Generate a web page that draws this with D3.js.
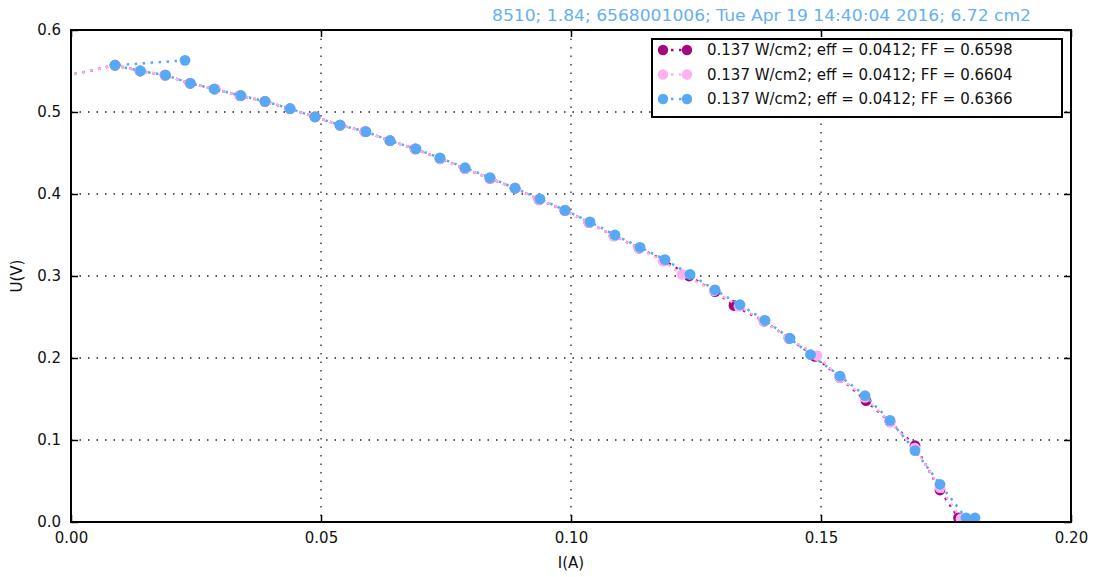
<!DOCTYPE html>
<html>
<head>
<meta charset="utf-8">
<script src="https://cdn.jsdelivr.net/npm/d3@7"></script>
<style>
  body { margin: 0; background: #fff; }
  text { font-family: "DejaVu Sans", sans-serif; }
</style>
</head>
<body>
<svg id="chart"></svg>
<script>
// IV curves
var titleText = "8510; 1.84; 6568001006; Tue Apr 19 14:40:04 2016; 6.72 cm2";
var seriesNames = [
  "0.137 W/cm2; eff = 0.0412; FF = 0.6598",
  "0.137 W/cm2; eff = 0.0412; FF = 0.6604",
  "0.137 W/cm2; eff = 0.0412; FF = 0.6366"
];
var seriesColors = ["#a3097f", "#ffb0ef", "#57a8f5"];

var iPurple = [-0.004, 0.0088, 0.0138, 0.0188, 0.0238, 0.0288, 0.0338, 0.0388, 0.0438, 0.0488, 0.0538, 0.0588, 0.0638, 0.0688, 0.0738, 0.0788, 0.0838, 0.0888, 0.0936, 0.0988, 0.1036, 0.1086, 0.1136, 0.1186, 0.1236, 0.1288, 0.1326, 0.1386, 0.1436, 0.1488, 0.1538, 0.1590, 0.1638, 0.1688, 0.1738, 0.1775];
var uPurple = [0.540, 0.557, 0.550, 0.545, 0.535, 0.528, 0.520, 0.513, 0.504, 0.494, 0.484, 0.476, 0.465, 0.455, 0.443, 0.431, 0.419, 0.407, 0.393, 0.380, 0.365, 0.349, 0.334, 0.319, 0.300, 0.281, 0.264, 0.245, 0.224, 0.202, 0.176, 0.148, 0.122, 0.093, 0.039, 0.005];

var iPink = [-0.004, 0.0088, 0.0138, 0.0188, 0.0238, 0.0288, 0.0338, 0.0388, 0.0438, 0.0488, 0.0538, 0.0588, 0.0638, 0.0688, 0.0738, 0.0788, 0.0838, 0.0888, 0.0936, 0.0988, 0.1036, 0.1086, 0.1136, 0.1184, 0.1222, 0.1286, 0.1336, 0.1386, 0.1436, 0.1492, 0.1538, 0.1588, 0.1638, 0.1688, 0.1738, 0.1780];
var uPink = [0.540, 0.557, 0.550, 0.545, 0.535, 0.528, 0.520, 0.513, 0.504, 0.494, 0.484, 0.476, 0.465, 0.455, 0.443, 0.431, 0.419, 0.407, 0.393, 0.380, 0.365, 0.349, 0.334, 0.318, 0.302, 0.282, 0.263, 0.245, 0.224, 0.203, 0.176, 0.152, 0.122, 0.090, 0.042, 0.004];

var iBlue = [0.0228, 0.0088, 0.0139, 0.0189, 0.0239, 0.0286, 0.0340, 0.0388, 0.0438, 0.0488, 0.0538, 0.0590, 0.0638, 0.0690, 0.0738, 0.0788, 0.0838, 0.0888, 0.0938, 0.0988, 0.1038, 0.1088, 0.1138, 0.1188, 0.1238, 0.1288, 0.1338, 0.1388, 0.1438, 0.1479, 0.1538, 0.1588, 0.1638, 0.1688, 0.1738, 0.1790, 0.1808];
var uBlue = [0.563, 0.557, 0.550, 0.545, 0.535, 0.528, 0.520, 0.513, 0.504, 0.494, 0.484, 0.476, 0.465, 0.455, 0.444, 0.432, 0.420, 0.407, 0.394, 0.380, 0.366, 0.350, 0.335, 0.320, 0.302, 0.283, 0.265, 0.246, 0.224, 0.204, 0.178, 0.154, 0.124, 0.087, 0.046, 0.005, 0.005];

var xTicks = [0.00, 0.05, 0.10, 0.15, 0.20];
var yTicks = [0.0, 0.1, 0.2, 0.3, 0.4, 0.5, 0.6];

var width = 1093, height = 577;
var margin = {top: 30, right: 22, bottom: 55, left: 71};
var plotW = width - margin.left - margin.right,
    plotH = height - margin.top - margin.bottom;

var svg = d3.select("#chart").attr("width", width).attr("height", height);

var x = d3.scaleLinear().domain([0, 0.2]).range([0, plotW]);
var y = d3.scaleLinear().domain([0, 0.6]).range([plotH, 0]);

var g = svg.append("g").attr("transform", "translate(" + margin.left + "," + margin.top + ")");

svg.append("defs").append("clipPath").attr("id", "clip")
  .append("rect").attr("width", plotW).attr("height", plotH);

// grid
g.selectAll(".vgrid").data(xTicks).enter().append("line")
  .attr("x1", d => x(d)).attr("x2", d => x(d))
  .attr("y1", 0).attr("y2", plotH)
  .attr("stroke", "#222").attr("stroke-width", 1.3).attr("stroke-dasharray", "1.5,7");
g.selectAll(".hgrid").data(yTicks).enter().append("line")
  .attr("y1", d => y(d)).attr("y2", d => y(d))
  .attr("x1", 0).attr("x2", plotW)
  .attr("stroke", "#222").attr("stroke-width", 1.3).attr("stroke-dasharray", "1.5,7");

// series
var series = [
  {I: iPurple, U: uPurple},
  {I: iPink, U: uPink},
  {I: iBlue, U: uBlue}
];
var line = d3.line().x(d => x(d[0])).y(d => y(d[1]));

series.forEach(function(s, k) {
  var pts = s.I.map((v, i) => [v, s.U[i]]);
  var sg = g.append("g").attr("clip-path", "url(#clip)");
  sg.append("path").datum(pts)
    .attr("d", line)
    .attr("fill", "none")
    .attr("stroke", seriesColors[k])
    .attr("stroke-width", 2.5)
    .attr("stroke-dasharray", "2.5,5.5");
  sg.selectAll("circle").data(pts).enter().append("circle")
    .attr("cx", d => x(d[0])).attr("cy", d => y(d[1]))
    .attr("r", 5.4)
    .attr("fill", seriesColors[k]);
});

// axes, ticks pointing inward on all sides
function customXAxis(sel) {
  sel.call(d3.axisBottom(x).tickValues(xTicks).tickFormat(d3.format(".2f")).tickSizeInner(-7).tickSizeOuter(0).tickPadding(10));
  sel.select(".domain").remove();
  sel.selectAll(".tick text").attr("font-size", 15).attr("fill", "#111");
  sel.selectAll(".tick line").attr("stroke", "#000").attr("stroke-width", 1.5);
}
function customYAxis(sel) {
  sel.call(d3.axisLeft(y).tickValues(yTicks).tickFormat(d3.format(".1f")).tickSizeInner(-7).tickSizeOuter(0).tickPadding(10));
  sel.select(".domain").remove();
  sel.selectAll(".tick text").attr("font-size", 15).attr("fill", "#111");
  sel.selectAll(".tick line").attr("stroke", "#000").attr("stroke-width", 1.5);
}
g.append("g").attr("transform", "translate(0," + plotH + ")").call(customXAxis);
g.append("g").call(customYAxis);
g.append("g").call(sel => {
  sel.call(d3.axisTop(x).tickValues(xTicks).tickFormat("").tickSizeInner(-7).tickSizeOuter(0));
  sel.select(".domain").remove();
  sel.selectAll(".tick line").attr("stroke", "#000").attr("stroke-width", 1.5);
});
g.append("g").attr("transform", "translate(" + plotW + ",0)").call(sel => {
  sel.call(d3.axisRight(y).tickValues(yTicks).tickFormat("").tickSizeInner(-7).tickSizeOuter(0));
  sel.select(".domain").remove();
  sel.selectAll(".tick line").attr("stroke", "#000").attr("stroke-width", 1.5);
});

g.append("rect").attr("width", plotW).attr("height", plotH)
  .attr("fill", "none").attr("stroke", "#000").attr("stroke-width", 2);

// labels
svg.append("text").attr("x", margin.left + plotW / 2).attr("y", height - 9)
  .attr("text-anchor", "middle").attr("font-size", 15).attr("fill", "#111").text("I(A)");
svg.append("text").attr("transform", "translate(22," + (margin.top + plotH / 2) + ") rotate(-90)")
  .attr("text-anchor", "middle").attr("font-size", 15).attr("fill", "#111").text("U(V)");
svg.append("text").attr("x", 1031).attr("y", 21)
  .attr("text-anchor", "end").attr("font-size", 15.5).attr("fill", "#66b0f2")
  .attr("textLength", 539).attr("lengthAdjust", "spacingAndGlyphs")
  .text(titleText);

// legend
var lg = svg.append("g").attr("transform", "translate(652,39)");
lg.append("rect").attr("width", 410).attr("height", 78)
  .attr("fill", "#fff").attr("stroke", "#000").attr("stroke-width", 2);
seriesNames.forEach(function(name, k) {
  var cy = 11 + k * 24.5;
  lg.append("line").attr("x1", 11).attr("x2", 35).attr("y1", cy).attr("y2", cy)
    .attr("stroke", seriesColors[k]).attr("stroke-width", 2.5).attr("stroke-dasharray", "2.5,5.5");
  lg.append("circle").attr("cx", 11).attr("cy", cy).attr("r", 5.2).attr("fill", seriesColors[k]);
  lg.append("circle").attr("cx", 35).attr("cy", cy).attr("r", 5.2).attr("fill", seriesColors[k]);
  lg.append("text").attr("x", 55).attr("y", cy).attr("dy", "0.35em")
    .attr("font-size", 15).attr("fill", "#111").text(name);
});
</script>
</body>
</html>
